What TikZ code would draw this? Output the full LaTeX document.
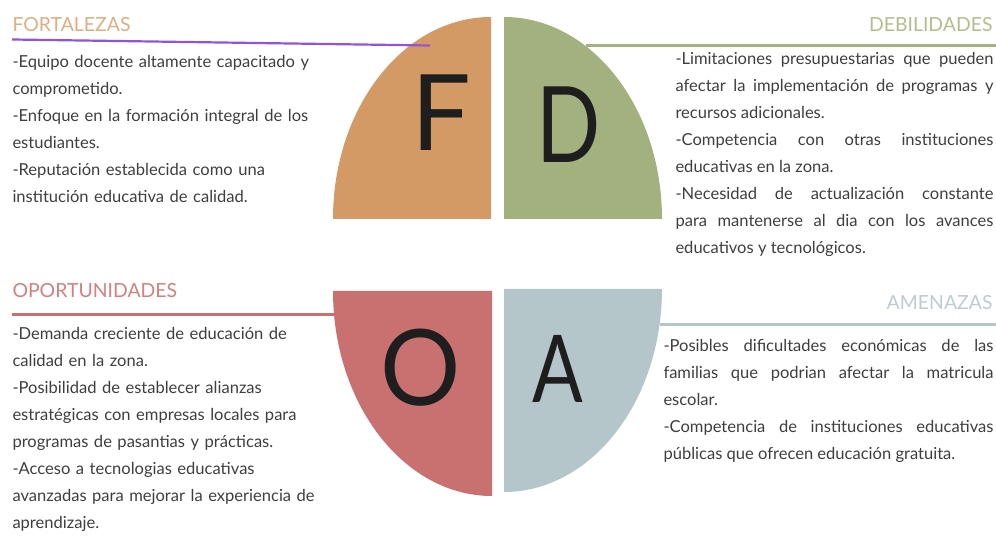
\documentclass[tikz,border=0pt]{standalone}
\usepackage{fontspec}
\setmainfont{Lato}
\setlength\parindent{0pt}
\hbadness=10000
\hfuzz=20pt
\definecolor{textcol}{RGB}{62,62,62}
\definecolor{lettercol}{RGB}{30,30,30}
\begin{document}
\begin{tikzpicture}[line join=bevel,
  title/.style={inner sep=0pt,font=\fontsize{19.5}{21}\selectfont},
  body/.style={inner sep=0pt,text=textcol,font=\fontsize{16.6}{27}\selectfont},
  letter/.style={inner sep=0pt,anchor=base,text=lettercol,font=\fontsize{106}{110}\selectfont},
]
  \pgfsetlinewidth{1bp}
  \useasboundingbox (0bp,0bp) rectangle (996bp,538bp);
%%
  % Edge: debilidades rule
  \draw [line width=3bp,color={rgb,255:red,163;green,177;blue,127}] (586bp,492bp) -- (996bp,492bp);
  % Edge: oportunidades rule
  \draw [line width=3bp,color={rgb,255:red,201;green,113;blue,113}] (12bp,223bp) -- (335bp,223bp);
  % Edge: amenazas rule
  \draw [line width=3bp,color={rgb,255:red,180;green,198;blue,202}] (660bp,213bp) -- (996bp,213bp);
  % Node: F
\begin{scope}
  \definecolor{fillcol}{RGB}{212,154,102};
  \fill [fillcol] (491bp,319bp) -- (333bp,319bp) arc [start angle=180,end angle=90,x radius=158bp,y radius=202bp] -- cycle;
  \node [letter] (letF) at (441bp,387bp) {F};
\end{scope}
  % Node: D
\begin{scope}
  \definecolor{fillcol}{RGB}{163,177,127};
  \fill [fillcol] (504bp,319bp) -- (662bp,319bp) arc [start angle=0,end angle=90,x radius=158bp,y radius=202bp] -- cycle;
  \node [letter,xscale=0.8] (letD) at (568.5bp,375bp) {D};
\end{scope}
  % Node: O
\begin{scope}
  \definecolor{fillcol}{RGB}{201,113,113};
  \fill [fillcol] (492bp,247bp) -- (333bp,247bp) arc [start angle=180,end angle=270,x radius=159bp,y radius=205bp] -- cycle;
  \node [letter,xscale=0.95] (letO) at (421bp,132bp) {O};
\end{scope}
  % Node: A
\begin{scope}
  \definecolor{fillcol}{RGB}{180,198,202};
  \fill [fillcol] (504bp,249bp) -- (662bp,249bp) arc [start angle=0,end angle=-90,x radius=158bp,y radius=203bp] -- cycle;
  \node [letter,xscale=0.8,font=\fontsize{94}{100}\selectfont] (letA) at (558bp,135bp) {A};
\end{scope}
  % Edge: fortalezas rule
  \draw [line width=2.2bp,color={rgb,255:red,148;green,82;blue,218}] (12bp,498.5bp) -- (430bp,492.5bp);
  % Node: fortalezas
  \node [title,anchor=base west,text={rgb,255:red,222;green,174;blue,128}] (fortalezas) at (12bp,506bp) {FORTALEZAS};
  \node [body,anchor=base west,text width=380bp,align=left] (fortext) at (12bp,470bp)
    {-Equipo docente altamente capacitado y\\comprometido.\\-Enfoque en la formación integral de los\\estudiantes.\\-Reputación establecida como una\\institución educativa de calidad.};
  % Node: debilidades
  \node [title,anchor=base east,text={rgb,255:red,178;green,189;blue,140}] (debilidades) at (993bp,506bp) {DEBILIDADES};
  \node [body,anchor=base west,text width=318bp,align=justify] (debtext) at (675bp,473bp)
    {-Limitaciones presupuestarias que pueden\linebreak afectar la implementación de programas y\linebreak recursos adicionales.\\-Competencia con otras instituciones\linebreak educativas en la zona.\\-Necesidad de actualización constante\linebreak para mantenerse al dia con los avances\linebreak educativos y tecnológicos.};
  % Node: oportunidades
  \node [title,anchor=base west,text={rgb,255:red,210;green,128;blue,128}] (oportunidades) at (12bp,240bp) {OPORTUNIDADES};
  \node [body,anchor=base west,text width=380bp,align=left] (oportext) at (12bp,198bp)
    {-Demanda creciente de educación de\\calidad en la zona.\\-Posibilidad de establecer alianzas\\estratégicas con empresas locales para\\programas de pasantias y prácticas.\\-Acceso a tecnologias educativas\\avanzadas para mejorar la experiencia de\\aprendizaje.};
  % Node: amenazas
  \node [title,anchor=base east,text={rgb,255:red,190;green,204;blue,207}] (amenazas) at (993bp,228bp) {AMENAZAS};
  \node [body,anchor=base west,text width=330bp,align=justify] (amentext) at (663bp,186bp)
    {-Posibles dificultades económicas de las\linebreak familias que podrian afectar la matricula\linebreak escolar.\\-Competencia de instituciones educativas\linebreak públicas que ofrecen educación gratuita.};
%
\end{tikzpicture}
\end{document}
